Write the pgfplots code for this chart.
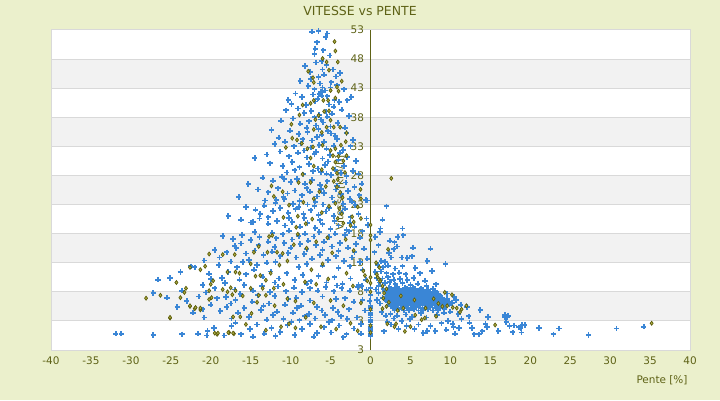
\documentclass[border=0pt]{standalone}
\usepackage{pgfplots}
\pgfplotsset{compat=1.18}
\usepackage{fontspec}
\setmainfont{DejaVu Sans}
\definecolor{bg}{RGB}{235,240,204}
\definecolor{band}{RGB}{242,242,242}
\definecolor{gridc}{RGB}{217,217,217}
\definecolor{olivetxt}{RGB}{94,98,22}
\definecolor{ptblue}{RGB}{58,134,214}
\definecolor{ptolive}{RGB}{92,92,10}
\definecolor{ptolivefill}{RGB}{176,176,70}
\begin{document}
\begin{tikzpicture}[x=1bp,y=1bp]
\fill[bg] (0,0) rectangle (720,400);
\useasboundingbox (0,0) rectangle (720,400);
\fill[white] (51,50) rectangle (690,370);
\foreach \v in {3,13,23,33,43}{
  \fill[band] (51,{50+(\v+2)*320/55}) rectangle (690,{50+(\v+7)*320/55});
}
\foreach \v in {3,8,13,18,23,28,33,38,43,48}{
  \draw[gridc, line width=1bp] (51,{50+(\v+2)*320/55}) -- (690,{50+(\v+2)*320/55});
}
\draw[gridc, line width=1bp] (51,50) rectangle (690,370);
\node[text=olivetxt,font=\fontsize{12.5}{14}\selectfont] at (360,389) {VITESSE vs PENTE};
\node[text=olivetxt,font=\fontsize{10.5}{12}\selectfont,anchor=east] at (691,20) {Pente [\%]};
\node[text=olivetxt,font=\fontsize{10.5}{12}\selectfont,rotate=90] at (340,207) {Vitesse [km/h]};
\begin{axis}[at={(51bp,50bp)}, anchor=south west, scale only axis,
  width=639bp, height=320bp,
  xmin=-40, xmax=40, ymin=-2, ymax=53,
  axis x line=bottom, axis y line=middle, axis line style={-},
  x axis line style={draw=gridc, line width=1bp},
  y axis line style={draw=olivetxt, line width=1.2bp},
  hide obscured x ticks=false, hide obscured y ticks=false,
  xtick={-40,-35,-30,-25,-20,-15,-10,-5,0,5,10,15,20,25,30,35,40},
  xticklabels={-40,-35,-30,-25,-20,-15,-10,-5,0,5,10,15,20,25,30,35,40},
  ytick={-2,3,8,13,18,23,28,33,38,43,48,53},
  yticklabels={3,3,8,13,18,23,28,33,38,43,48,53},
  major tick length=0pt,
  tick label style={text=olivetxt, font=\fontsize{10.5}{12}\selectfont},
  xticklabel style={yshift=-3bp},
  yticklabel style={xshift=-3bp},
  clip=false,
]
% blue series
\addplot[only marks, mark=+, mark size=2.7bp, mark options={line width=1.8bp, draw=ptblue}] coordinates {
(-7.3,52.7)(-6.5,52.8)(-5.6,51.8)(-5.4,52.4)(-6.9,49.8)(-7.0,48.9)(-5.9,49.5)(-6.1,47.7)(-5.5,47.0)(-3.8,45.6)(-6.5,44.9)(-5.8,45.3)(-4.7,46.2)(-8.2,46.8)(-7.6,45.8)(-5.1,48.6)(-6.7,50.9)
(-8.8,44.2)(-7.8,43.4)(-6.3,43.8)(-6.0,43.1)(-5.7,42.6)(-4.9,44.0)(-4.2,43.5)(-3.3,42.8)(-9.4,42.1)(-8.6,41.5)(-7.2,41.9)(-6.6,41.2)(-5.4,41.6)(-4.5,41.0)(-3.9,40.6)(-2.9,40.9)(-9.9,40.3)(-8.1,40.1)(-6.9,40.7)(-5.2,40.2)(-6.2,42.4)(-7.5,44.6)(-4.3,45.0)(-2.4,41.5)(-10.3,41.0)(-6.4,42.0)(-6.1,41.7)
(-10.6,39.2)(-9.1,39.5)(-8.3,38.7)(-7.4,39.1)(-6.4,38.4)(-5.6,39.0)(-4.8,38.6)(-3.6,39.3)(-2.7,38.2)(-11.2,37.4)(-9.7,37.8)(-8.8,36.9)(-7.7,37.3)(-6.8,36.6)(-5.9,37.1)(-5.0,36.4)(-4.1,37.0)(-3.2,36.2)(-10.1,35.7)(-9.0,35.1)(-7.9,35.5)(-6.1,35.0)(-5.3,35.6)(-4.4,34.8)(-3.0,35.3)(-11.5,34.5)(-8.5,34.2)(-6.7,34.6)(-2.2,34.1)(-12.4,35.8)
(-12.0,33.4)(-10.7,33.8)(-9.6,33.0)(-8.7,33.5)(-7.5,32.8)(-6.4,33.2)(-5.5,32.6)(-4.6,33.1)(-3.4,32.4)(-2.5,33.0)(-13.0,31.6)(-11.3,32.1)(-10.2,31.3)(-9.1,31.9)(-8.0,31.1)(-7.0,31.7)(-6.0,30.9)(-5.1,31.5)(-4.0,30.7)(-2.9,31.2)(-1.8,30.5)(-12.6,30.1)(-11.0,29.6)(-9.8,30.3)(-8.9,29.4)(-7.7,30.0)(-6.6,29.2)(-5.7,29.8)(-4.4,29.0)(-3.3,29.6)(-2.2,28.8)(-10.5,28.5)(-8.4,28.2)(-6.2,28.6)(-4.9,28.1)(-3.7,28.4)(-1.5,28.3)(-14.5,31.0)
(-13.5,27.6)(-12.2,27.1)(-11.1,27.8)(-10.0,26.9)(-9.2,27.4)(-8.2,26.6)(-7.3,27.2)(-6.3,26.4)(-5.4,27.0)(-4.2,26.2)(-3.1,26.8)(-2.0,26.0)(-1.1,26.6)(-14.1,25.6)(-12.8,25.1)(-11.6,25.8)(-10.4,24.9)(-9.5,25.4)(-8.6,24.6)(-7.6,25.2)(-6.7,24.4)(-5.8,25.0)(-4.8,24.2)(-3.7,24.8)(-2.6,24.0)(-1.4,24.6)(-0.6,23.8)(-13.2,23.7)(-11.9,23.2)(-10.8,23.9)(-9.7,23.1)(-8.9,23.6)(-7.9,23.0)(-6.9,23.5)(-5.9,23.0)(-4.5,23.4)(-3.4,23.1)(-2.3,23.5)(-15.3,26.5)(-16.5,24.3)
(-15.6,22.6)(-14.4,22.1)(-13.3,22.8)(-12.2,21.9)(-11.3,22.4)(-10.3,21.6)(-9.4,22.2)(-8.4,21.4)(-7.5,22.0)(-6.5,21.2)(-5.6,21.8)(-4.6,21.0)(-3.6,21.6)(-2.5,20.8)(-1.5,21.4)(-0.5,20.6)(-16.2,20.4)(-15.0,19.9)(-13.9,20.6)(-12.8,19.7)(-11.7,20.2)(-10.7,19.4)(-9.8,20.0)(-8.8,19.2)(-7.9,19.8)(-6.9,19.0)(-6.0,19.6)(-5.0,18.8)(-4.0,19.4)(-3.0,18.6)(-2.0,19.2)(-1.0,18.4)(-14.5,18.3)(-12.3,18.1)(-10.2,18.5)(-8.2,18.0)(-6.4,18.3)(-4.4,18.0)(-2.7,18.4)(-0.3,19.5)(-17.8,21.0)(-11.8,23.8)(-13.8,21.4)(-14.7,20.0)
(-18.5,17.6)(-17.2,17.1)(-16.1,17.8)(-15.0,16.9)(-13.9,17.4)(-12.8,16.6)(-11.8,17.2)(-10.8,16.4)(-9.8,17.0)(-8.8,16.2)(-7.8,16.8)(-6.8,16.0)(-5.8,16.6)(-4.8,15.8)(-3.8,16.4)(-2.8,15.6)(-1.8,16.2)(-0.8,15.4)(-19.5,15.2)(-18.0,14.8)(-16.8,15.5)(-15.6,14.6)(-14.5,15.1)(-13.4,14.3)(-12.3,14.9)(-11.3,14.1)(-10.3,14.7)(-9.3,13.9)(-8.3,14.5)(-7.3,13.7)(-6.3,14.3)(-5.3,13.5)(-4.3,14.1)(-3.3,13.3)(-2.3,13.9)(-1.3,13.1)(-0.4,13.7)(-20.8,13.4)(-17.5,13.2)(-15.2,13.5)(-13.0,13.0)(-22.0,12.2)(-17.0,15.9)
(-26.6,10.1)(-25.1,10.4)(-22.5,12.4)(-20.2,11.1)(-19.0,12.6)(-17.8,11.4)(-16.7,12.2)(-15.6,11.0)(-14.6,11.8)(-13.5,10.6)(-12.5,11.5)(-11.5,10.3)(-10.5,11.2)(-9.5,10.0)(-8.5,10.9)(-7.5,9.8)(-6.5,10.7)(-5.5,9.6)(-4.5,10.5)(-3.5,9.4)(-2.5,10.3)(-1.5,9.2)(-0.6,10.1)(-21.0,9.2)(-19.5,8.6)(-18.2,9.5)(-17.0,8.4)(-15.8,9.2)(-14.7,8.2)(-13.6,9.0)(-12.6,8.0)(-11.6,8.9)(-10.6,8.1)(-9.6,8.7)(-8.6,8.0)(-7.6,8.6)(-6.6,8.2)(-5.6,8.8)(-4.6,8.1)(-3.6,8.6)(-2.6,8.2)(-1.6,8.8)(-0.5,8.3)(-27.2,7.8)(-23.8,11.4)(-14.2,12.6)(-9.0,12.3)(-4.0,12.1)
(-25.5,7.0)(-23.0,6.4)(-21.5,7.2)(-20.0,5.8)(-19.2,6.9)(-18.0,5.4)(-16.9,6.6)(-15.8,5.2)(-14.8,6.3)(-13.7,4.9)(-12.7,6.0)(-11.7,4.6)(-10.7,5.8)(-9.7,4.4)(-8.7,5.6)(-7.7,4.2)(-6.7,5.4)(-5.7,4.0)(-4.7,5.2)(-3.7,3.8)(-2.7,5.0)(-1.7,3.6)(-0.7,4.8)(-22.2,4.4)(-20.8,3.6)(-17.4,3.4)(-15.2,3.7)(-13.0,3.2)(-10.9,3.3)(-8.9,3.1)(-6.9,3.4)(-4.8,3.1)(-2.9,3.3)(-1.0,6.6)(-3.2,6.9)(-6.0,7.2)(-9.3,7.0)(-12.0,7.3)(-16.3,7.6)
(-31.9,0.8)(-31.2,0.8)(-27.2,0.6)(-23.6,0.7)(-21.6,0.8)(-20.4,1.3)(-20.5,0.5)(-19.6,1.8)(-17.4,2.1)(-16.2,0.7)(-15.1,1.6)(-14.2,2.4)(-13.3,0.8)(-12.4,1.8)(-11.3,1.1)(-10.4,2.3)(-9.5,0.6)(-8.6,1.6)(-7.6,2.5)(-6.7,0.9)(-5.8,1.9)(-4.9,1.0)(-3.9,2.2)(-3.0,0.7)(-2.1,1.7)(-1.2,0.8)(-18.3,0.5)(-11.9,0.4)(-7.1,0.3)(-5.2,2.8)(-3.4,0.2)(-9.9,2.8)(-14.7,0.3)(-16.9,2.7)(-18.8,4.7)(-17.5,6.0)
(-7.0,38.0)(-6.2,37.6)(-5.4,38.1)(-4.6,39.8)(-8.0,36.2)(-6.5,36.0)(-4.9,35.2)(-7.3,34.0)(-5.8,33.8)(-4.2,34.2)(-8.3,32.3)(-6.8,32.0)(-5.3,30.4)(-3.8,31.9)(-9.5,28.9)(-7.2,28.7)(-5.5,28.3)(-3.0,27.9)(-8.0,25.8)(-6.2,25.7)(-4.3,25.6)(-2.8,25.3)(-10.9,24.3)(-9.0,22.6)(-7.0,22.7)(-5.2,22.4)(-3.2,22.3)(-1.9,22.9)(-12.8,20.8)(-10.2,20.7)(-8.3,20.7)(-6.3,20.3)(-4.5,20.2)(-2.6,19.8)(-11.0,17.9)(-9.0,17.6)(-7.1,17.5)(-5.2,17.4)(-3.2,17.8)(-1.3,17.3)(-16.2,16.3)(-14.0,16.0)(-12.0,15.7)(-10.0,15.6)(-8.0,15.3)(-6.0,15.2)(-4.0,15.0)(-2.0,14.8)(-18.9,13.9)(-16.0,13.1)(-11.9,13.1)(-8.0,12.8)(-6.0,12.5)(-2.6,12.4)(-1.0,11.8)(-20.0,10.2)(-18.6,10.4)(-16.4,10.1)(-12.0,9.6)(-8.0,9.4)(-4.2,9.1)(-1.1,9.0)(-23.6,8.2)(-20.6,7.9)(-18.1,7.1)(-14.1,7.4)(-10.3,6.8)(-7.6,6.5)(-4.3,6.8)(-2.1,6.3)(-24.2,5.4)(-21.0,5.0)(-16.6,4.4)(-12.2,4.0)(-8.2,3.8)(-4.1,4.5)(-1.2,2.5)(-6.1,4.8)(-9.2,5.2)(-13.4,5.6)(-10.8,27.4)(-6.0,46.2)(-6.8,47.4)(-5.0,43.1)(-7.0,42.8)
(0,0.4)(0,0.8)(0,1.2)(0,1.6)(0,2.0)(0,2.4)(0,2.8)(0,3.2)(0,3.6)(0,4.0)(0,4.4)(0,4.8)(0,5.2)(0,5.6)(-0.1,6.4)(0,7.4)(0,8.6)
(-0.4,23.7)(2.0,22.7)(1.5,20.4)(1.25,18.9)(1.2,18.3)(4.0,18.9)(3.4,17.4)(4.1,17.7)(0.6,17.4)(3.0,16.5)(5.3,15.6)(7.5,15.4)(0.5,14.8)(2.3,14.7)(2.9,15.3)(3.9,13.9)(4.6,13.8)(5.2,14.1)(7.1,13.3)(9.4,12.8)(2.6,13.9)(1.35,13.3)(1.8,13.1)(3.3,15.8)(2.4,16.8)(1.0,16.0)
(0.9,12.6)(1.6,12.2)(2.2,12.5)(3.1,12.0)(4.0,12.4)(5.6,12.1)(0.6,11.4)(1.3,11.5)(2.0,11.2)(2.8,11.0)(3.6,11.3)(4.4,11.0)(6.2,11.2)(7.7,11.6)(0.8,10.4)(1.5,10.3)(2.2,10.5)(2.9,10.1)(3.7,10.2)(4.6,10.0)(5.4,10.4)(6.8,9.9)(1.2,9.6)(1.8,9.5)(2.4,9.7)(3.1,9.3)(4.0,9.5)(5.0,9.2)(5.9,9.4)(7.0,9.0)(8.2,9.3)(1.0,9.0)
(1.6,8.5)(2.1,8.3)(2.6,8.6)(3.1,8.4)(3.6,8.5)(4.1,8.3)(4.6,8.6)(5.1,8.4)(5.6,8.5)(6.1,8.2)(6.6,8.4)(7.2,8.3)(7.8,8.5)
(1.9,7.7)(2.4,7.8)(2.9,7.6)(3.4,7.8)(3.9,7.7)(4.4,7.6)(4.9,7.8)(5.4,7.7)(5.9,7.6)(6.4,7.8)(6.9,7.7)(7.4,7.6)(7.9,7.8)(8.4,7.7)
(1.5,7.0)(2.0,7.1)(2.5,6.9)(3.0,7.0)(3.5,7.1)(4.0,6.9)(4.5,7.0)(5.0,7.1)(5.5,6.9)(6.0,7.0)(6.5,7.1)(7.0,6.9)(7.5,7.0)(8.0,7.1)(8.5,6.9)(9.0,7.0)
(2.2,6.3)(2.7,6.2)(3.2,6.4)(3.7,6.3)(4.2,6.2)(4.7,6.4)(5.2,6.3)(5.7,6.2)(6.2,6.4)(6.7,6.3)(7.2,6.2)(7.7,6.4)(8.2,6.3)(8.7,6.2)(9.2,6.4)(9.8,6.3)
(2.5,5.6)(3.0,5.5)(3.5,5.7)(4.0,5.6)(4.5,5.5)(5.0,5.7)(5.5,5.6)(6.0,5.5)(6.5,5.7)(7.0,5.6)(7.5,5.5)(8.0,5.7)(8.5,5.6)(9.0,5.5)(9.5,5.7)
(2.3,8.0)(2.8,7.3)(3.3,8.1)(3.8,7.3)(4.3,8.0)(4.8,7.3)(5.3,8.0)(5.8,7.3)(6.3,8.0)(6.8,7.3)(7.3,8.0)(7.8,7.3)(8.3,7.3)(2.6,6.6)(3.1,5.9)(3.6,6.6)(4.1,5.9)(4.6,6.6)(5.1,5.9)(5.6,6.6)(6.1,5.9)(6.6,6.6)(7.1,5.9)(7.6,6.6)(8.1,5.9)(8.6,6.6)(9.1,5.9)(9.6,6.8)
(2.15,7.45)(2.65,7.35)(3.15,7.5)(3.65,7.4)(4.15,7.45)(4.65,7.35)(5.15,7.5)(5.65,7.4)(6.15,7.45)(6.65,7.35)(7.15,7.5)(7.65,7.4)(8.15,7.45)(8.65,7.4)
(1.85,6.65)(2.35,6.7)(2.85,6.6)(3.35,6.75)(3.85,6.65)(4.35,6.7)(4.85,6.6)(5.35,6.75)(5.85,6.65)(6.35,6.7)(6.85,6.6)(7.35,6.75)(7.85,6.65)(8.35,6.7)(8.85,6.6)(9.35,6.5)
(2.45,5.95)(2.95,6.0)(3.45,5.9)(3.95,6.05)(4.45,5.95)(4.95,6.0)(5.45,5.9)(5.95,6.05)(6.45,5.95)(6.95,6.0)(7.45,5.9)(7.95,6.05)(8.45,5.95)(8.95,6.0)(9.45,5.9)(9.9,5.8)
(2.75,5.25)(3.25,5.2)(3.75,5.3)(4.25,5.2)(4.75,5.25)(5.25,5.2)(5.75,5.3)(6.25,5.2)(6.75,5.25)(7.25,5.2)(7.75,5.3)(8.25,5.2)(8.75,5.25)(9.25,5.1)
(1.85,8.1)(2.35,8.65)(2.85,8.2)(3.35,8.7)(3.85,8.15)(4.35,8.7)(4.85,8.2)(5.35,8.75)(5.85,8.1)(6.35,8.6)(6.85,8.0)(7.5,8.0)(8.1,8.1)
(3.0,4.9)(3.6,5.0)(4.2,4.8)(4.8,4.9)(5.4,5.0)(6.0,4.8)(6.6,4.9)(7.2,5.0)(7.8,4.8)(8.4,4.9)(10.2,6.1)(10.7,6.6)(11.3,5.8)(10.5,7.1)(9.6,7.7)(12.1,5.4)(13.75,4.9)
(1.9,3.9)(2.1,2.8)(2.6,2.4)(2.9,3.4)(3.5,1.6)(3.9,3.0)(4.5,2.1)(4.9,3.3)(5.5,1.6)(6.0,2.4)(7.1,1.3)(7.5,2.1)(8.1,1.3)(8.3,4.0)(8.9,2.6)(9.5,1.5)(9.7,3.0)(10.3,2.5)(10.4,1.9)(11.1,1.8)(11.4,3.3)(12.3,3.8)(12.7,1.8)(13.0,0.7)(13.6,0.7)(14.0,1.2)(14.4,2.5)(14.6,1.9)(14.7,3.7)(16.0,1.3)(16.8,3.7)(17.1,3.7)(18.0,2.2)(18.6,1.9)(19.0,2.3)(21.1,1.8)
(1.4,4.5)(2.5,4.2)(3.3,3.9)(4.4,4.1)(5.2,3.7)(6.3,4.3)(7.0,3.6)(9.2,4.4)(10.0,4.6)(11.0,4.2)(1.2,6.0)(1.0,7.8)(0.7,8.4)(0.8,6.6)(1.7,1.2)(6.6,0.9)(10.6,0.8)(12.4,2.7)
(16.8,4.0)(17.2,3.9)(17.0,2.8)(17.4,2.1)(18.0,2.2)(17.8,1.05)(18.8,1.7)(18.9,1.0)(19.3,2.3)(22.9,0.7)(23.6,1.7)(27.3,0.6)(30.8,1.7)(34.2,2.0)
};
% olive series
\addplot[only marks, mark=diamond*, mark size=2bp, mark options={line width=0.7bp, draw=ptolive, fill=ptolivefill}] coordinates {
(-4.4,49.4)(-6.0,48.1)(-4.1,47.5)(-5.5,47.5)(-7.8,45.9)(-7.2,44.8)(-7.1,44.0)(-5.2,46.1)(-4.2,43.2)(-4.0,42.5)(-5.0,42.6)(-4.4,41.3)(-5.3,40.9)(-5.9,40.9)(-7.1,40.9)(-7.5,40.4)(-8.5,40.1)(-5.2,39.1)(-5.8,39.0)(-6.5,38.3)(-5.0,37.5)(-5.5,36.3)(-4.6,36.3)(-3.8,36.3)(-9.9,36.8)(-7.1,35.9)(-6.1,35.4)(-3.0,35.3)(-9.8,34.4)(-9.2,34.1)(-10.6,32.8)(-8.6,33.5)(-7.9,32.6)(-7.2,32.9)(-6.0,33.2)(-5.0,32.3)(-4.4,32.6)(-3.7,33.2)(-3.1,33.8)(-4.7,31.4)(-4.0,31.3)(-4.4,30.3)(-3.4,30.5)(-3.0,31.4)(-7.5,31.0)(-7.1,29.6)(-6.1,29.0)(-4.7,29.2)(-4.2,28.4)(-3.2,28.5)(-4.1,27.3)(-7.5,26.8)(-8.5,28.2)(-9.0,26.8)(-4.5,51.0)(-3.6,44.2)(-8.9,38.4)(-6.9,37.6)
(-4.6,27.0)(-4.2,26.0)(-3.8,25.1)(-3.5,24.2)(-4.4,23.2)(-3.9,22.3)(-3.6,21.4)(-4.1,20.6)(-3.4,19.8)(-1.25,25.6)(-1.2,24.0)(-1.6,22.6)(-2.3,20.9)(-2.1,20.0)(-2.5,19.4)(-1.2,20.6)(-0.9,11.6)(-0.4,9.9)(-0.7,10.8)(-5.6,26.1)(-6.4,25.2)(-7.1,24.0)(-8.4,23.4)(-5.2,22.7)(-6.1,21.6)(-7.3,20.5)(-9.1,21.0)(-10.2,22.9)(-11.0,25.2)(-12.4,26.2)(-12.1,24.4)(-10.9,20.8)(-8.1,19.7)(-5.4,17.3)(-6.8,16.6)(-8.0,15.5)(-3.1,17.0)(-2.1,15.1)(-4.8,14.7)(-6.0,12.8)(-7.4,11.8)(-3.0,11.2)(-5.3,10.2)(-2.2,9.0)(-6.8,9.3)(-8.2,9.7)(-1.2,6.1)(-3.4,5.6)(-5.0,6.5)(-7.1,6.1)(-2.5,2.6)(-4.3,1.6)(-6.2,2.0)(-8.1,3.6)(-1.6,1.3)
(-20.2,14.5)(-18.5,14.4)(-17.0,14.4)(-22.6,12.2)(-21.3,11.8)(-20.7,12.4)(-17.9,11.4)(-16.9,11.4)(-19.7,9.9)(-20.0,9.3)(-23.1,8.6)(-23.3,7.9)(-23.8,7.0)(-26.3,7.4)(-28.1,6.9)(-20.2,8.2)(-19.9,7.0)(-20.2,6.7)(-22.6,5.5)(-22.0,5.1)(-21.3,4.9)(-25.1,3.5)(-18.5,8.4)(-17.9,8.0)(-17.5,8.7)(-16.9,8.2)(-16.4,11.2)(-17.3,7.5)(-16.0,7.3)(-15.0,12.8)(-14.6,14.8)(-14.0,15.8)(-12.7,17.5)(-12.3,17.7)(-12.9,14.8)(-11.7,14.8)(-11.0,14.6)(-10.4,13.3)(-9.6,16.1)(-9.1,17.9)(-9.3,19.1)(-14.4,10.7)(-13.8,10.8)(-13.1,10.0)(-12.5,11.2)(-12.1,8.6)(-13.5,8.6)(-15.0,8.6)(-14.0,7.4)(-13.1,7.4)(-10.4,6.8)(-9.4,6.4)(-16.3,3.7)(-14.9,4.3)(-17.7,1.0)(-19.2,0.7)(-17.1,0.8)(-10.2,2.5)(-9.4,1.8)(-19.5,0.9)(-19.1,0.9)(-17.8,1.0)(-17.2,0.9)(-22.6,5.6)(-21.9,5.3)(-21.3,5.2)(-25.1,3.6)(-17.2,3.7)(-24.3,9.6)(-11.4,12.6)(-10.9,9.3)(-12.0,5.6)(-14.2,6.2)(-11.2,2.0)(-13.1,1.4)(-15.6,2.4)
(0,19.5)(0,17.7)(0,16.9)(0,10.5)(0,9.5)(0,8.0)(0,5.0)(0,2.2)(0,1.0)(2.6,27.5)
(1.5,5.1)(2.1,2.5)(1.6,6.9)(0.9,10.5)(1.2,10.0)(3.0,2.0)(4.1,5.2)(1.2,9.8)(1.5,9.0)(2.0,8.5)(1.7,7.8)(0.8,11.0)(2.3,6.2)(2.0,5.5)(3.2,2.5)(5.6,4.0)(6.8,3.5)(7.9,6.8)(8.5,6.0)(9.0,5.5)(9.6,5.6)(10.3,5.3)(10.8,5.2)(11.4,5.0)(12.0,5.6)(9.3,7.9)(10.2,7.5)(11.2,4.5)(8.2,3.8)(6.4,3.2)(5.0,2.0)(4.3,1.2)(3.4,4.8)(15.6,2.3)(35.2,2.6)(1.1,12.2)(0.7,13.0)(2.2,15.3)(5.5,6.6)(3.8,7.3)(6.9,5.2)
};
\end{axis}
\end{tikzpicture}
\end{document}
